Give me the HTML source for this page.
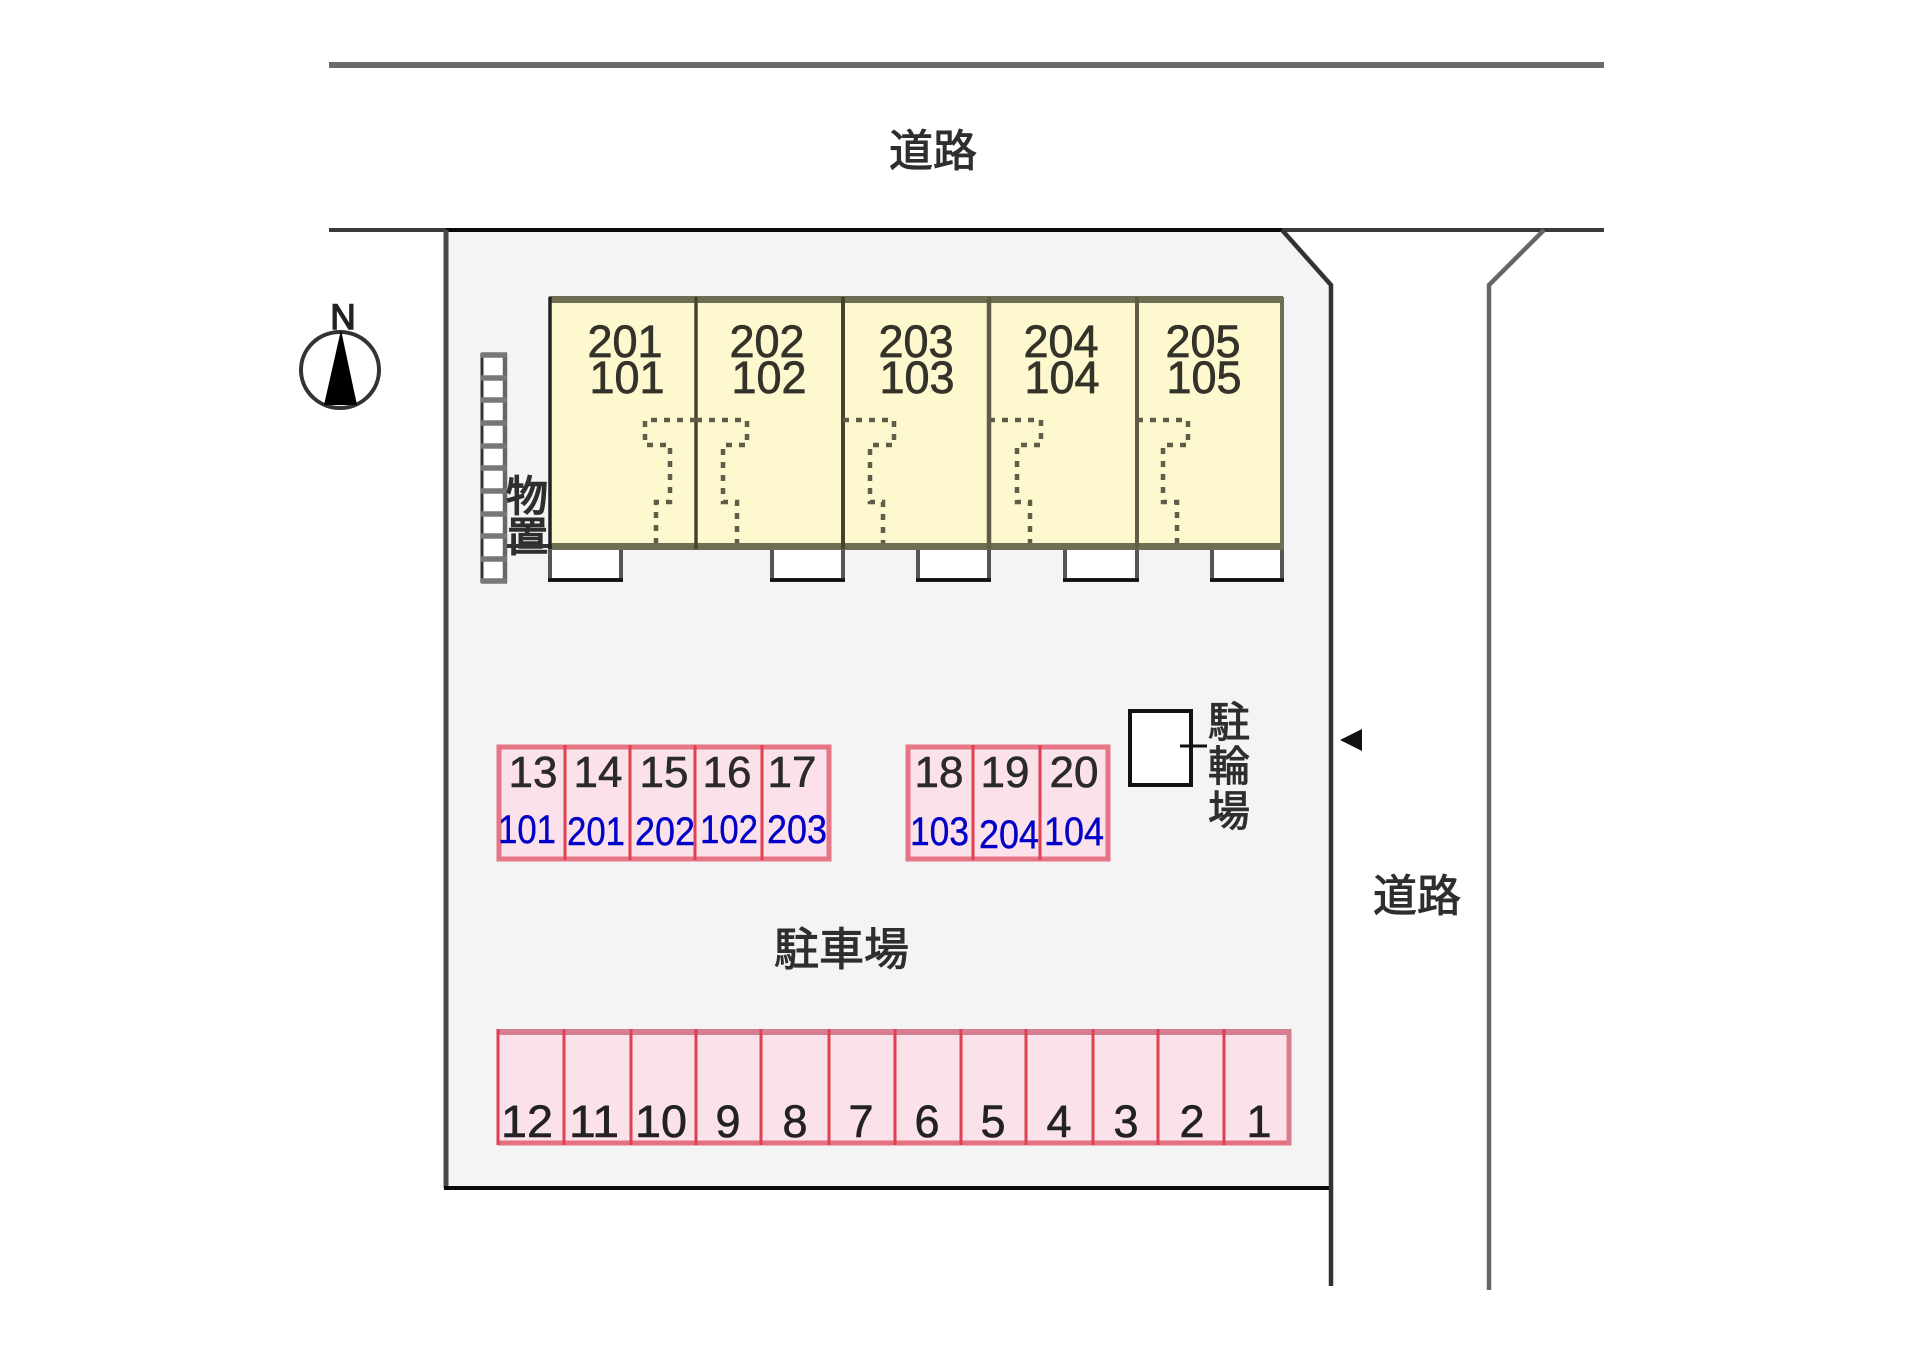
<!DOCTYPE html>
<html lang="ja">
<head>
<meta charset="utf-8">
<title>配置図</title>
<style>
html,body{margin:0;padding:0;background:#fff;width:1920px;height:1357px;overflow:hidden}
svg{display:block}
text{font-family:"Liberation Sans","Noto Sans CJK JP",sans-serif;fill:#303030}
.jp{font-family:"Liberation Sans","Noto Sans CJK JP",sans-serif;font-size:42px;fill:#2e2e2e;stroke:#2e2e2e;stroke-width:1px}
.b{font-size:45px;text-anchor:middle;fill:#33332a;stroke:#33332a;stroke-width:.7px}
.p{font-size:44px;text-anchor:middle;fill:#2a2a2a;stroke:#2a2a2a;stroke-width:.6px}
.q{font-size:45px;text-anchor:middle;fill:#222;stroke:#222;stroke-width:.6px}
.u{font-size:40px;fill:#0000c8;stroke:#0000c8;stroke-width:.4px}
.d{fill:none;stroke:#5f5d48;stroke-width:4.5;stroke-dasharray:6 7}
</style>
</head>
<body>
<svg width="1920" height="1357" viewBox="0 0 1920 1357" xmlns="http://www.w3.org/2000/svg">
<rect width="1920" height="1357" fill="#fff"/>

<!-- site -->
<polygon points="446,230 1282,230 1331,285 1331,1188 446,1188" fill="#f4f4f5"/>

<!-- roads -->
<line x1="329" y1="65" x2="1604" y2="65" stroke="#6a6a6a" stroke-width="6"/>
<line x1="329" y1="230" x2="446" y2="230" stroke="#3a3a3a" stroke-width="4"/>
<line x1="446" y1="230" x2="1282" y2="230" stroke="#0a0a0a" stroke-width="4"/>
<line x1="1282" y1="230" x2="1604" y2="230" stroke="#3a3a3a" stroke-width="4"/>
<line x1="446" y1="230" x2="446" y2="1188" stroke="#4a4a4a" stroke-width="5"/>
<line x1="444" y1="1188" x2="1333" y2="1188" stroke="#0a0a0a" stroke-width="4"/>
<polyline points="1282,230 1331,285 1331,1286" fill="none" stroke="#333" stroke-width="4.5"/>
<polyline points="1544,230 1489,285 1489,1290" fill="none" stroke="#666" stroke-width="4.5"/>

<!-- compass -->
<ellipse cx="340" cy="370" rx="39" ry="38" fill="#fff" stroke="#333" stroke-width="4"/>
<polygon points="341,330 324,405 357,405" fill="#000"/>
<text x="343" y="329" font-size="35" text-anchor="middle" style="fill:#222;stroke:#222;stroke-width:1.4px">N</text>

<!-- ladder -->
<rect x="481" y="353" width="26" height="230" fill="#fff"/>
<path d="M482 353V583" stroke="#333" stroke-width="3" fill="none"/>
<path d="M505 353V583" stroke="#666" stroke-width="4.5" fill="none"/>
<path d="M481 355H507M481 378H507M481 400H507M481 423H507M481 446H507M481 468H507M481 491H507M481 514H507M481 536H507M481 559H507M481 581H507" stroke="#777" stroke-width="5.5" fill="none"/>

<!-- storage -->
<text class="jp" x="506" y="511" style="font-size:42px;stroke-width:1.6px">物</text>
<text class="jp" x="507" y="551" style="font-size:41px;stroke-width:1.6px">置</text>
<line x1="507" y1="546" x2="549" y2="546" stroke="#333" stroke-width="4"/>

<!-- balconies -->
<g fill="#fff" stroke="#555" stroke-width="4">
<path d="M550 546V580H621V546"/>
<path d="M772 546V580H843V546"/>
<path d="M918 546V580H989V546"/>
<path d="M1065 546V580H1137V546"/>
<path d="M1212 546V580H1282V546"/>
</g>
<g stroke="#111" stroke-width="3.5">
<path d="M548 580H623M770 580H845M916 580H991M1063 580H1139M1210 580H1284"/>
</g>

<!-- building -->
<rect x="549" y="299" width="734" height="247" fill="#fdf8cd"/>
<rect x="549" y="296" width="734" height="7" fill="#706d55"/>
<rect x="549" y="543" width="734" height="7" fill="#706d55"/>
<line x1="550" y1="297" x2="550" y2="549" stroke="#222" stroke-width="3.5"/>
<line x1="696" y1="297" x2="696" y2="549" stroke="#45432f" stroke-width="3.5"/>
<line x1="843" y1="297" x2="843" y2="549" stroke="#45432f" stroke-width="4"/>
<line x1="989" y1="297" x2="989" y2="549" stroke="#5f5d48" stroke-width="4.5"/>
<line x1="1137" y1="297" x2="1137" y2="549" stroke="#5f5d48" stroke-width="4"/>
<line x1="1282" y1="297" x2="1282" y2="549" stroke="#706d55" stroke-width="4"/>

<!-- entry dashes -->
<path class="d" d="M696 420H645V445H670V502H656V543"/>
<path class="d" d="M696 420H747V445H723V502H737V543"/>
<path class="d" d="M843 420H894V445H870V502H883V543"/>
<path class="d" d="M989 420H1041V445H1017V502H1030V543"/>
<path class="d" d="M1137 420H1188V445H1163V502H1177V543"/>

<!-- unit labels -->
<text class="b" x="625" y="357">201</text><text class="b" x="627" y="393">101</text>
<text class="b" x="767" y="357">202</text><text class="b" x="769" y="393">102</text>
<text class="b" x="916" y="357">203</text><text class="b" x="917" y="393">103</text>
<text class="b" x="1061" y="357">204</text><text class="b" x="1062" y="393">104</text>
<text class="b" x="1203" y="357">205</text><text class="b" x="1204" y="393">105</text>

<!-- parking -->
<g fill="#fbe1ea" stroke="none">
<rect x="498" y="746" width="332" height="114"/>
<rect x="907" y="746" width="201" height="114"/>
<rect x="498" y="1030" width="793" height="115"/>
</g>
<g fill="none" stroke="#e67585" stroke-width="5">
<rect x="499" y="747" width="330" height="112"/>
<rect x="908" y="747" width="200" height="112"/>
</g>
<path d="M498 1032H1291" stroke="#d67d90" stroke-width="6" fill="none"/>
<path d="M498 1143H1291" stroke="#e5707f" stroke-width="5" fill="none"/>
<path d="M1289 1029V1145" stroke="#d67d90" stroke-width="5" fill="none"/>
<g stroke="#e0404f" stroke-width="3" fill="none">
<path d="M565 745V860M630 745V860M695 745V860M762 745V860"/>
<path d="M973 745V860M1040 745V860"/>
<path d="M498 1029V1145"/>
<path d="M564 1029V1145M631 1029V1145M696 1029V1145M761 1029V1145M829 1029V1145M895 1029V1145M961 1029V1145M1026 1029V1145M1093 1029V1145M1158 1029V1145M1224 1029V1145"/>
</g>

<text class="p" x="533" y="787">13</text>
<text class="p" x="598" y="787">14</text>
<text class="p" x="664" y="787">15</text>
<text class="p" x="727" y="787">16</text>
<text class="p" x="792" y="787">17</text>
<text class="p" x="939" y="787">18</text>
<text class="p" x="1005" y="787">19</text>
<text class="p" x="1074" y="787">20</text>

<text class="u" x="498" y="843" textLength="58" lengthAdjust="spacingAndGlyphs">101</text>
<text class="u" x="567" y="845" textLength="58" lengthAdjust="spacingAndGlyphs">201</text>
<text class="u" x="635" y="845" textLength="60" lengthAdjust="spacingAndGlyphs">202</text>
<text class="u" x="700" y="843" textLength="58" lengthAdjust="spacingAndGlyphs">102</text>
<text class="u" x="767" y="843" textLength="60" lengthAdjust="spacingAndGlyphs">203</text>
<text class="u" x="910" y="845" textLength="59" lengthAdjust="spacingAndGlyphs">103</text>
<text class="u" x="979" y="848" textLength="60" lengthAdjust="spacingAndGlyphs">204</text>
<text class="u" x="1044" y="845" textLength="60" lengthAdjust="spacingAndGlyphs">104</text>

<text class="q" x="527" y="1137" textLength="52" lengthAdjust="spacingAndGlyphs">12</text>
<text class="q" x="594" y="1137" textLength="50" lengthAdjust="spacingAndGlyphs">11</text>
<text class="q" x="661" y="1137" textLength="52" lengthAdjust="spacingAndGlyphs">10</text>
<text class="q" x="728" y="1137">9</text>
<text class="q" x="795" y="1137">8</text>
<text class="q" x="861" y="1137">7</text>
<text class="q" x="927" y="1137">6</text>
<text class="q" x="993" y="1137">5</text>
<text class="q" x="1059" y="1137">4</text>
<text class="q" x="1126" y="1137">3</text>
<text class="q" x="1192" y="1137">2</text>
<text class="q" x="1259" y="1137">1</text>

<!-- bicycle parking -->
<rect x="1130" y="711" width="61" height="74" fill="#fff" stroke="#111" stroke-width="4"/>
<line x1="1180" y1="746" x2="1207" y2="746" stroke="#111" stroke-width="3"/>
<text class="jp" x="1208" y="737" style="font-size:42px">駐</text>
<text class="jp" x="1208" y="781" style="font-size:42px">輪</text>
<text class="jp" x="1208" y="826" style="font-size:42px">場</text>

<!-- access arrow -->
<polygon points="1340,740 1362,729 1362,751" fill="#111"/>

<!-- labels -->
<text class="jp" x="889" y="166" style="font-size:44px">道路</text>
<text class="jp" x="1373" y="911" style="font-size:44px">道路</text>
<text class="jp" x="774" y="965" style="font-size:45px">駐車場</text>
</svg>
</body>
</html>
